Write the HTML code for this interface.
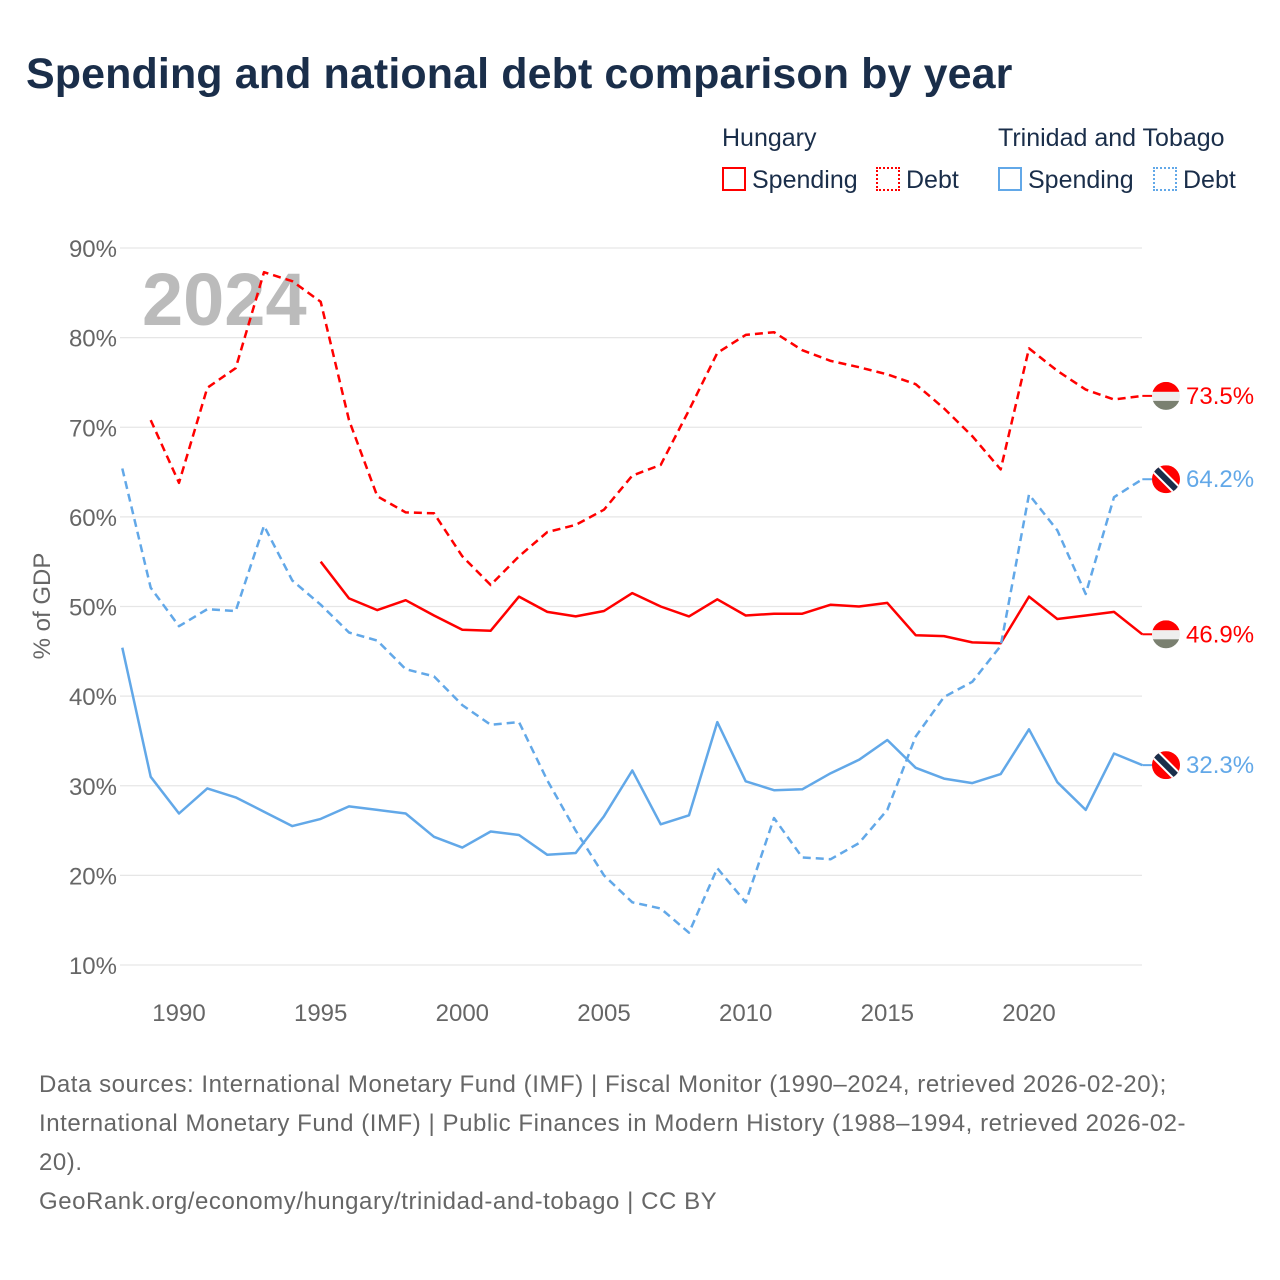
<!DOCTYPE html>
<html><head><meta charset="utf-8">
<style>
body{margin:0;width:1280px;height:1280px;background:#fff;font-family:"Liberation Sans",sans-serif;overflow:hidden;position:relative}
.t{position:absolute;white-space:nowrap}
</style></head><body>
<div class="t" style="left:26px;top:50px;font-size:43px;font-weight:bold;color:#1a2e4a;letter-spacing:0.1px">Spending and national debt comparison by year</div>
<div class="t" style="left:722px;top:124px;font-size:25px;color:#1a2e4a">Hungary</div>
<div class="t" style="left:998px;top:124px;font-size:25px;color:#1a2e4a">Trinidad and Tobago</div>
<div class="t" style="left:722px;top:166px;font-size:25px;color:#1a2e4a"><span style="display:inline-block;width:20px;height:20px;border:2px solid #f00;vertical-align:-3px;margin-right:6px"></span>Spending</div>
<div class="t" style="left:876px;top:166px;font-size:25px;color:#1a2e4a"><span style="display:inline-block;width:20px;height:20px;border:2px dotted #f00;vertical-align:-3px;margin-right:6px"></span>Debt</div>
<div class="t" style="left:998px;top:166px;font-size:25px;color:#1a2e4a"><span style="display:inline-block;width:20px;height:20px;border:2px solid #62a8e8;vertical-align:-3px;margin-right:6px"></span>Spending</div>
<div class="t" style="left:1153px;top:166px;font-size:25px;color:#1a2e4a"><span style="display:inline-block;width:20px;height:20px;border:2px dotted #62a8e8;vertical-align:-3px;margin-right:6px"></span>Debt</div>
<svg id="chart" width="1280" height="1280" style="position:absolute;left:0;top:0;pointer-events:none"></svg>
<div class="t" style="left:39px;top:1065px;font-size:24px;line-height:39px;color:#666;letter-spacing:0.55px">Data sources: International Monetary Fund (IMF) | Fiscal Monitor (1990–2024, retrieved 2026-02-20);<br>International Monetary Fund (IMF) | Public Finances in Modern History (1988–1994, retrieved 2026-02-<br>20).<br>GeoRank.org/economy/hungary/trinidad-and-tobago | CC BY</div>
<script>
const yTicks=[10,20,30,40,50,60,70,80,90];
const xTicks=[1990,1995,2000,2005,2010,2015,2020];
const huDebtYears=[1989,1990,1991,1992,1993,1994,1995,1996,1997,1998,1999,2000,2001,2002,2003,2004,2005,2006,2007,2008,2009,2010,2011,2012,2013,2014,2015,2016,2017,2018,2019,2020,2021,2022,2023,2024];
const huDebt=[70.8,63.8,74.4,76.6,87.3,86.3,84.0,70.8,62.3,60.5,60.4,55.6,52.4,55.6,58.3,59.1,60.8,64.6,65.8,71.9,78.3,80.3,80.6,78.6,77.4,76.7,75.9,74.8,72.1,69.0,65.3,78.8,76.3,74.2,73.1,73.5];
const huSpendYears=[1995,1996,1997,1998,1999,2000,2001,2002,2003,2004,2005,2006,2007,2008,2009,2010,2011,2012,2013,2014,2015,2016,2017,2018,2019,2020,2021,2022,2023,2024];
const huSpend=[55.0,50.9,49.6,50.7,49.0,47.4,47.3,51.1,49.4,48.9,49.5,51.5,50.0,48.9,50.8,49.0,49.2,49.2,50.2,50.0,50.4,46.8,46.7,46.0,45.9,51.1,48.6,49.0,49.4,46.9];
const ttYears=[1988,1989,1990,1991,1992,1993,1994,1995,1996,1997,1998,1999,2000,2001,2002,2003,2004,2005,2006,2007,2008,2009,2010,2011,2012,2013,2014,2015,2016,2017,2018,2019,2020,2021,2022,2023,2024];
const ttDebt=[65.4,52.1,47.8,49.7,49.5,59.0,52.9,50.2,47.1,46.2,43.0,42.2,39.0,36.8,37.1,30.6,25.0,20.0,17.0,16.3,13.6,20.8,17.0,26.4,22.0,21.8,23.6,27.3,35.5,39.9,41.6,45.6,62.5,58.5,51.4,62.2,64.2];
const ttSpend=[45.4,31.0,26.9,29.7,28.7,27.1,25.5,26.3,27.7,27.3,26.9,24.3,23.1,24.9,24.5,22.3,22.5,26.6,31.7,25.7,26.7,37.1,30.5,29.5,29.6,31.4,32.9,35.1,32.0,30.8,30.3,31.3,36.3,30.4,27.3,33.6,32.3];
const NS="http://www.w3.org/2000/svg";
const svg=document.getElementById('chart');
const X=y=>179+(y-1990)*(850/30);
const Y=v=>248+(90-v)*8.9625;
function mk(t,a,p){const e=document.createElementNS(NS,t);for(const k in a)e.setAttribute(k,a[k]);(p||svg).appendChild(e);return e;}
yTicks.forEach(v=>{
  const g=mk('line',{x1:120,x2:1142,y1:Y(v),y2:Y(v),stroke:'#e6e6e6','stroke-width':1.3});
  
  
  const t=mk('text',{x:117,y:Y(v)+9,'text-anchor':'end','font-size':24,fill:'#666','font-family':'Liberation Sans, sans-serif'});
  t.textContent=v+'%';
  
  
});
xTicks.forEach(yr=>{
  const t=mk('text',{x:X(yr),y:1021,'text-anchor':'middle','font-size':24,fill:'#666','font-family':'Liberation Sans, sans-serif'});
  t.textContent=yr;
  
  
});
const yt=mk('text',{x:0,y:0,transform:'translate(50,606) rotate(-90)','text-anchor':'middle','font-size':24,fill:'#666','font-family':'Liberation Sans, sans-serif'});
yt.textContent='% of GDP';


const yr=mk('text',{x:142,y:325,'font-size':74,'font-weight':'bold',fill:'#bbb','font-family':'Liberation Sans, sans-serif'});
yr.textContent='2024';


function line(xs,vs,color,dash,name){
  const d=xs.map((x,i)=>(i?'L':'M')+X(x).toFixed(1)+','+Y(vs[i]).toFixed(1)).join('');
  const p=mk('path',{d:d,fill:'none',stroke:color,'stroke-width':2.5,'stroke-linejoin':'round'});
  if(dash)p.setAttribute('stroke-dasharray','8,5');
  
  
  const lx=X(xs[xs.length-1]),ly=Y(vs[vs.length-1]);
  mk('line',{x1:lx,x2:lx+10,y1:ly,y2:ly,stroke:color,'stroke-width':2});
  return [lx,ly];
}
function flag(cx,cy,kind,name){
  const g=mk('g',{});
  
  
  const id='c'+Math.round(cy);
  const cp=mk('clipPath',{id:id},g);mk('circle',{cx:cx,cy:cy,r:14},cp);
  const h=mk('g',{'clip-path':'url(#'+id+')'},g);
  if(kind==='hu'){
    mk('rect',{x:cx-14,y:cy-14,width:28,height:10,fill:'#f00'},h);
    mk('rect',{x:cx-14,y:cy-4,width:28,height:9,fill:'#eee'},h);
    mk('rect',{x:cx-14,y:cy+5,width:28,height:10,fill:'#7a8070'},h);
  }else{
    mk('rect',{x:cx-14,y:cy-14,width:28,height:28,fill:'#f00'},h);
    mk('line',{x1:cx-14,y1:cy-14,x2:cx+14,y2:cy+14,stroke:'#fff','stroke-width':10},h);
    mk('line',{x1:cx-14,y1:cy-14,x2:cx+14,y2:cy+14,stroke:'#1a2e4a','stroke-width':6},h);
  }
}
function label(x,y,txt,color,name){
  const t=mk('text',{x:x,y:y+8,'font-size':24,fill:color,'font-family':'Liberation Sans, sans-serif'});
  t.textContent=txt;
  
  
}
const a=line(huDebtYears,huDebt,'#f00',true,'hungary-debt-line');
const b=line(huSpendYears,huSpend,'#f00',false,'hungary-spending-line');
const c=line(ttYears,ttDebt,'#62a8e8',true,'tt-debt-line');
const d=line(ttYears,ttSpend,'#62a8e8',false,'tt-spending-line');
flag(1166,a[1],'hu','hungary-debt-flag');label(1186,a[1],huDebt[huDebt.length-1].toFixed(1)+'%','#f00','hungary-debt-end-label');
flag(1166,b[1],'hu','hungary-spending-flag');label(1186,b[1],huSpend[huSpend.length-1].toFixed(1)+'%','#f00','hungary-spending-end-label');
flag(1166,c[1],'tt','tt-debt-flag');label(1186,c[1],ttDebt[ttDebt.length-1].toFixed(1)+'%','#62a8e8','tt-debt-end-label');
flag(1166,d[1],'tt','tt-spending-flag');label(1186,d[1],ttSpend[ttSpend.length-1].toFixed(1)+'%','#62a8e8','tt-spending-end-label');
</script>
</body></html>
